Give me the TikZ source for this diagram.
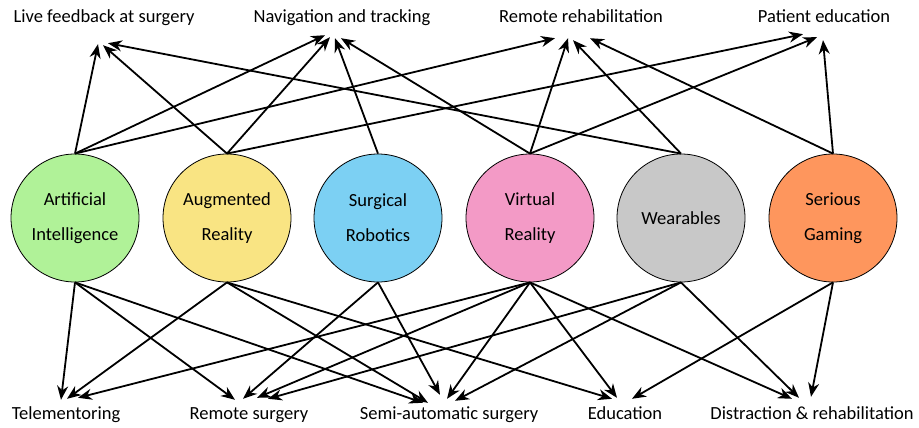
\documentclass[tikz,border=0pt]{standalone}
\usepackage{fontspec}
\setmainfont{Carlito}
\usetikzlibrary{arrows.meta}

\definecolor{aigreen}{RGB}{176,242,152}
\definecolor{aryellow}{RGB}{249,228,131}
\definecolor{srblue}{RGB}{124,208,243}
\definecolor{vrpink}{RGB}{243,154,198}
\definecolor{wgray}{RGB}{200,200,200}
\definecolor{sgorange}{RGB}{254,150,93}

\begin{document}
\begin{tikzpicture}[x=1pt, y=-1pt,
	tech/.style={draw, circle, line width=0.8pt, minimum size=128pt, inner sep=0pt, align=center, font=\fontsize{18.5}{35}\selectfont},
	goal/.style={inner sep=2pt, text height=12pt, text depth=4pt, font=\fontsize{18.5}{22}\selectfont},
	link/.style={line width=1.8pt, -{Stealth[length=14pt, width=11pt, inset=4.5pt]}}]
				\useasboundingbox (0,0) rectangle (919,428);

				\node[tech, fill=aigreen] (AI)at(75, 218) {Artificial\\Intelligence};
				\node[tech, fill=aryellow] (AR)at(227, 218) {Augmented\\Reality};
				\node[tech, fill=srblue] (SR)at(378, 218) {Surgical\\Robotics};
				\node[tech, fill=vrpink] (VR)at(530, 218) {Virtual\\Reality};
				\node[tech, fill=wgray] (W)at(681, 218) {Wearables};
				\node[tech, fill=sgorange] (SG)at(833, 218) {Serious\\Gaming};

				\node[goal] (LF)at(104, 19) {Live feedback at surgery};
				\node[goal] (NT)at(342, 19) {Navigation and tracking};
				\node[goal] (RR)at(581, 19) {Remote rehabilitation};
				\node[goal] (PE)at(824, 19) {Patient education};

				\node[goal] (TM)at(66, 415) {Telementoring};
				\node[goal] (RS)at(249, 415) {Remote surgery};
				\node[goal] (SA)at(449, 415) {Semi-automatic surgery};
				\node[goal] (ED)at(625, 415) {Education};
				\node[goal] (DR)at(812, 415) {Distraction \& rehabilitation};

				% upward links
				\draw[link] (AI.north) -- ([xshift=-6pt,yshift=-15pt]LF.south);
				\draw[link] (AR.north) -- ([xshift=-1pt,yshift=-16pt]LF.south);
				\draw[link] (W.north) -- ([xshift=4pt,yshift=-14pt]LF.south);
				\draw[link] (AI.north) -- ([xshift=-17pt,yshift=-6pt]NT.south);
				\draw[link] (AR.north) -- ([xshift=-12pt,yshift=-8pt]NT.south);
				\draw[link] (SR.north) -- ([xshift=-7pt,yshift=-9pt]NT.south);
				\draw[link] (VR.north) -- ([xshift=-1pt,yshift=-9pt]NT.south);
				\draw[link] (AI.north) -- ([xshift=-26pt,yshift=-9pt]RR.south);
				\draw[link] (VR.north) -- ([xshift=-13pt,yshift=-9pt]RR.south);
				\draw[link] (W.north) -- ([xshift=-8pt,yshift=-11pt]RR.south);
				\draw[link] (SG.north) -- ([xshift=9pt,yshift=-9pt]RR.south);
				\draw[link] (AR.north) -- ([xshift=-21pt,yshift=-5pt]PE.south);
				\draw[link] (VR.north) -- ([xshift=-7pt,yshift=-8pt]PE.south);
				\draw[link] (SG.north) -- ([xshift=-1pt,yshift=-11pt]PE.south);

				% downward links
				\draw[link] (AI.south) -- ([xshift=-5pt,yshift=5pt]TM.north);
				\draw[link] (AR.south) -- ([xshift=1pt,yshift=6pt]TM.north);
				\draw[link] (VR.south) -- ([xshift=12pt,yshift=7pt]TM.north);
				\draw[link] (AI.south) -- ([xshift=-14pt,yshift=5pt]RS.north);
				\draw[link] (SR.south) -- ([xshift=-6pt,yshift=6pt]RS.north);
				\draw[link] (VR.south) -- ([xshift=8pt,yshift=7pt]RS.north);
				\draw[link] (W.south) -- ([xshift=19pt,yshift=6pt]RS.north);
				\draw[link] (AI.south) -- ([xshift=-26pt,yshift=2pt]SA.north);
				\draw[link] (AR.south) -- ([xshift=-21pt,yshift=2pt]SA.north);
				\draw[link] (SR.south) -- ([xshift=-9pt,yshift=10pt]SA.north);
				\draw[link] (VR.south) -- ([xshift=-2pt,yshift=6pt]SA.north);
				\draw[link] (W.south) -- ([xshift=6pt,yshift=4pt]SA.north);
				\draw[link] (AR.south) -- ([xshift=-13pt,yshift=6pt]ED.north);
				\draw[link] (VR.south) -- ([xshift=-8pt,yshift=7pt]ED.north);
				\draw[link] (SG.south) -- ([xshift=7pt,yshift=6pt]ED.north);
				\draw[link] (VR.south) -- ([xshift=-20pt,yshift=6pt]DR.north);
				\draw[link] (W.south) -- ([xshift=-13pt,yshift=7pt]DR.north);
				\draw[link] (SG.south) -- ([xshift=-1pt,yshift=8pt]DR.north);
				\end{tikzpicture}
\end{document}
